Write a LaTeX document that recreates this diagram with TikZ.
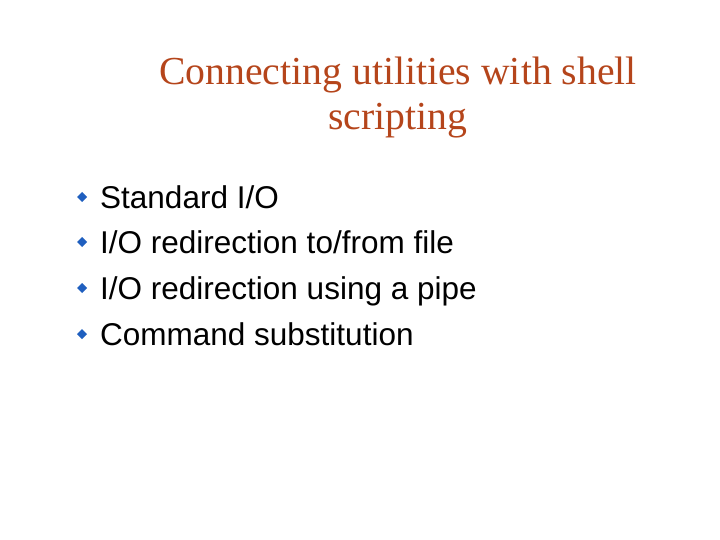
\documentclass[tikz,border=0pt]{standalone}
\usepackage{fontspec}
\setmainfont{Liberation Serif}
\newfontfamily\bulletfont{Liberation Sans}
\definecolor{titlec}{HTML}{B5451B}
\definecolor{bulc}{HTML}{1F5FBF}
\begin{document}
\begin{tikzpicture}[x=1pt,y=-1pt]
\useasboundingbox (0,0) rectangle (720,540);
\tikzset{title/.style={text=titlec,font=\fontsize{39.7}{44}\selectfont,anchor=base,inner sep=0pt},
 item/.style={font=\bulletfont\fontsize{31.5}{34}\selectfont,anchor=base west,inner sep=0pt},
 bul/.style={fill=bulc,draw=none}}
\node[title] (t1) at (398,85) {Connecting utilities with shell};
\node[title] (t2) at (398,130) {scripting};
\foreach \y/\t [count=\i] in {208/{Standard I/O}, 253/{I/O redirection to/from file}, 299/{I/O redirection using a pipe}, 345/{Command substitution}}{
  \node[item] (i\i) at (100,\y) {\t};
  \fill[bul] (82,\y-16) -- ++(5,5) -- ++(-5,5) -- ++(-5,-5) -- cycle;
}
\end{tikzpicture}
\end{document}
